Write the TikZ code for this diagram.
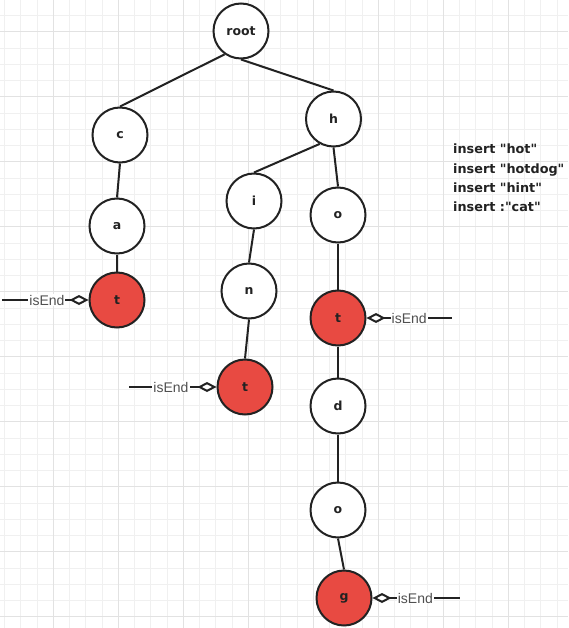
\documentclass[tikz,border=0pt]{standalone}
\usepackage{fontspec}
\setmainfont{DejaVu Sans}[Ligatures=TeXOff]
\newfontfamily\lblfont{Liberation Sans}
\usetikzlibrary{arrows.meta}
\definecolor{endred}{RGB}{232,74,66}
\definecolor{stroke}{RGB}{34,34,34}
\definecolor{minorgrid}{RGB}{240,240,240}
\definecolor{majorgrid}{RGB}{226,226,226}
\definecolor{lblgray}{RGB}{80,80,80}
\tikzset{
  trienode/.style={circle, draw=stroke, line width=2pt, fill=white, minimum size=55pt, inner sep=0pt,
    font=\fontsize{12.5}{14}\selectfont\bfseries, text=stroke},
  endnode/.style={trienode, fill=endred},
  link/.style={draw=stroke, line width=2pt},
  isendlink/.style={draw=stroke, line width=2pt},
  isendlbl/.style={fill=white, inner sep=1pt, text=lblgray, font=\lblfont\fontsize{14}{16}\selectfont},
  dia/.style={-{Diamond[open, length=19pt, width=10pt, fill=white]}},
  diastart/.style={{Diamond[open, length=19pt, width=10pt, fill=white]}-},
}
\begin{document}
\begin{tikzpicture}[x=1pt, y=-1pt]
\useasboundingbox (0,0) rectangle (568,628);
\fill[white] (0,0) rectangle (568,628);
% grid
\foreach \i in {0,...,35} {
  \draw[minorgrid, line width=0.8pt] ({4.55+16.25*\i},0) -- ({4.55+16.25*\i},628);
}
\foreach \i in {0,...,38} {
  \draw[minorgrid, line width=0.8pt] (0,{15.45+16.25*\i}) -- (568,{15.45+16.25*\i});
}
\foreach \i in {0,...,8} {
  \draw[majorgrid, line width=1pt] ({53.3+65*\i},0) -- ({53.3+65*\i},628);
}
\foreach \i in {0,...,9} {
  \draw[majorgrid, line width=1pt] (0,{31.7+65*\i}) -- (568,{31.7+65*\i});
}

% nodes
\node[trienode] (root) at (241,31) {root};
\node[trienode] (c) at (120,135) {c};
\node[trienode] (a) at (117,226) {a};
\node[endnode]  (t1) at (117,300) {t};
\node[trienode] (h) at (333.5,119) {h};
\node[trienode] (i) at (254,201) {i};
\node[trienode] (n) at (249,291) {n};
\node[endnode]  (t2) at (245,387) {t};
\node[trienode] (o) at (338,215) {o};
\node[endnode]  (t3) at (338,318) {t};
\node[trienode] (d) at (338,406) {d};
\node[trienode] (o2) at (338,510) {o};
\node[endnode]  (g) at (344,598) {g};

% edges
\draw[link] (root.235) -- (c.north);
\draw[link] (root.south) -- (h.north);
\draw[link] (c.south) -- (a.north);
\draw[link] (a.south) -- (t1.north);
\draw[link] (h.241) -- (i.north);
\draw[link] (h.south) -- (o.north);
\draw[link] (i.south) -- (n.north);
\draw[link] (n.south) -- (t2.north);
\draw[link] (o.south) -- (t3.north);
\draw[link] (t3.south) -- (d.north);
\draw[link] (d.south) -- (o2.north);
\draw[link] (o2.south) -- (g.north);

% isEnd links
\coordinate (e1) at (2,300);
\coordinate (e2) at (129,387);
\coordinate (e3) at (452,318);
\coordinate (e4) at (460,598);
\draw[isendlink, dia] (e1) -- node[isendlbl, pos=0.52] {isEnd} (t1.west);
\draw[isendlink, dia] (e2) -- node[isendlbl, pos=0.48] {isEnd} (t2.west);
\draw[isendlink, diastart] (t3.east) -- node[isendlbl, pos=0.5] {isEnd} (e3);
\draw[isendlink, diastart] (g.east) -- node[isendlbl, pos=0.49] {isEnd} (e4);

% text block
\node[anchor=north west, align=left, inner sep=0pt, text=stroke,
  font=\fontsize{12.8}{19.3}\selectfont\bfseries] (ins) at (453,144)
  {insert "hot"\\insert "hotdog"\\insert "hint"\\insert :"cat"};
\end{tikzpicture}
\end{document}
